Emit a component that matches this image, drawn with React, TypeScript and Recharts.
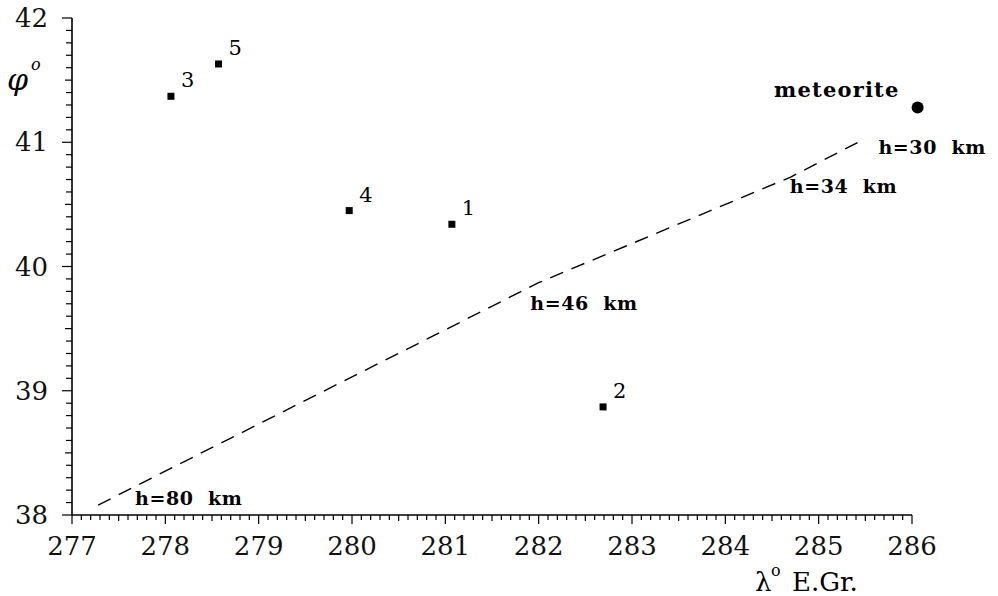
import React from 'react';
import { ScatterChart, Scatter, XAxis, YAxis, ReferenceDot, Label } from 'recharts';

// axis ticks
const xMajorTicks = [277, 278, 279, 280, 281, 282, 283, 284, 285, 286];
const yMajorTicks = [38, 39, 40, 41, 42];
const xTicks = Array.from({ length: 91 }, (_, i) => +(277 + i * 0.1).toFixed(1));
const yTicks = Array.from({ length: 41 }, (_, i) => +(38 + i * 0.1).toFixed(1));

// stations
const stationIds = ['1', '2', '3', '4', '5'];
const stationLon = [281.07, 282.69, 278.06, 279.97, 278.57];
const stationLat = [40.34, 38.87, 41.37, 40.45, 41.63];

// meteorite
const meteoriteLon = [286.06];
const meteoriteLat = [41.28];
const meteoriteLabel = ['meteorite'];

// trajectory projection (dashed)
const pathLon = [277.28, 282.0, 284.7, 285.5];
const pathLat = [38.08, 39.87, 40.72, 41.03];

// height annotations
const heightLabels = ['h=80  km', 'h=46  km', 'h=34  km', 'h=30  km'];
const heightLon = [277.675, 281.91, 284.69, 285.64];
const heightLat = [38.08, 39.65, 40.59, 40.905];

const stations = stationLon.map((x, i) => ({ x, y: stationLat[i], id: stationIds[i] }));
const pathData = pathLon.map((x, i) => ({ x, y: pathLat[i] }));
const heightData = heightLon.map((x, i) => ({ x, y: heightLat[i], label: heightLabels[i] }));

const FONT = "'DejaVu Serif', serif";

const isHalf = (v: number) => Math.abs(v * 2 - Math.round(v * 2)) < 1e-6;

const XTick = (props: any) => {
  const { x, y, payload } = props;
  const v = payload.value;
  const major = xMajorTicks.some((t) => Math.abs(t - v) < 1e-6);
  const len = major ? 9 : isHalf(v) ? 6 : 5;
  return (
    <g>
      <line x1={x} x2={x} y1={y} y2={y + len} stroke="#000" strokeWidth={1.2} />
      {major && (
        <text x={x} y={y + 40} textAnchor="middle" fontFamily={FONT} fontSize={26} fill="#111">
          {Math.round(v)}
        </text>
      )}
    </g>
  );
};

const YTick = (props: any) => {
  const { x, y, payload } = props;
  const v = payload.value;
  const major = yMajorTicks.some((t) => Math.abs(t - v) < 1e-6);
  const len = major ? 10 : isHalf(v) ? 7 : 6;
  return (
    <g>
      <line x1={x} x2={x - len} y1={y} y2={y} stroke="#000" strokeWidth={1.2} />
      {major && (
        <text x={x - 24} y={y + 9} textAnchor="end" fontFamily={FONT} fontSize={26} fill="#111">
          {Math.round(v)}
        </text>
      )}
    </g>
  );
};

const StationShape = (props: any) => {
  const { cx, cy, payload } = props;
  return (
    <g>
      <rect x={cx - 3.5} y={cy - 3.5} width={7} height={7} fill="#000" />
      <text x={cx + 10} y={cy - 9} fontFamily={FONT} fontSize={21} fill="#000">
        {payload.id}
      </text>
    </g>
  );
};

const HeightShape = (props: any) => {
  const { cx, cy, payload } = props;
  return (
    <text
      x={cx}
      y={cy}
      fontFamily={FONT}
      fontWeight="bold"
      fontSize={19}
      letterSpacing={0.6}
      fill="#000"
      style={{ whiteSpace: 'pre' }}
    >
      {payload.label}
    </text>
  );
};

const MeteoriteShape = (props: any) => {
  const { cx, cy } = props;
  return (
    <g>
      <circle cx={cx} cy={cy} r={6} fill="#000" />
      <text
        x={cx - 18}
        y={cy - 10}
        textAnchor="end"
        fontFamily={FONT}
        fontWeight="bold"
        fontSize={21}
        letterSpacing={1.2}
        fill="#000"
      >
        {meteoriteLabel[0]}
      </text>
    </g>
  );
};

const YTitle = () => (
  <g>
    <text x={7} y={90} fontFamily={FONT} fontStyle="italic" fontSize={30} fill="#000">
      φ
    </text>
    <text x={31} y={70} fontFamily={FONT} fontStyle="italic" fontSize={16} fill="#000">
      o
    </text>
  </g>
);

const XTitle = () => (
  <g>
    <text x={755} y={591} fontFamily={FONT} fontSize={26} fill="#000">
      λ
    </text>
    <text x={771} y={576} fontFamily={FONT} fontSize={16} fill="#000">
      o
    </text>
    <text x={792} y={591} fontFamily={FONT} fontSize={26} fill="#000">
      E.Gr.
    </text>
  </g>
);

export default function App() {
  return (
    <div style={{ position: 'absolute', left: 0, top: 0, background: '#fff' }}>
      <ScatterChart width={998} height={596} margin={{ top: 18, right: 86, bottom: 41, left: 12 }}>
        <XAxis
          type="number"
          dataKey="x"
          domain={[277, 286]}
          ticks={xTicks}
          interval={0}
          tickSize={0}
          tickMargin={0}
          tickLine={false}
          tick={<XTick />}
          height={40}
          axisLine={{ stroke: '#000', strokeWidth: 1.6 }}
        >
          <Label content={<XTitle />} />
        </XAxis>
        <YAxis
          type="number"
          dataKey="y"
          domain={[38, 42]}
          ticks={yTicks}
          interval={0}
          tickSize={0}
          tickMargin={0}
          tickLine={false}
          tick={<YTick />}
          width={60}
          axisLine={{ stroke: '#000', strokeWidth: 1.6 }}
        >
          <Label content={<YTitle />} />
        </YAxis>
        <Scatter
          data={pathData}
          isAnimationActive={false}
          line={{ stroke: '#000', strokeWidth: 1.4, strokeDasharray: '14 9' }}
          shape={() => <g />}
        />
        <Scatter data={stations} isAnimationActive={false} shape={<StationShape />} />
        <Scatter data={heightData} isAnimationActive={false} shape={<HeightShape />} />
        <ReferenceDot
          x={meteoriteLon[0]}
          y={meteoriteLat[0]}
          r={6}
          ifOverflow="visible"
          shape={<MeteoriteShape />}
        />
      </ScatterChart>
    </div>
  );
}
